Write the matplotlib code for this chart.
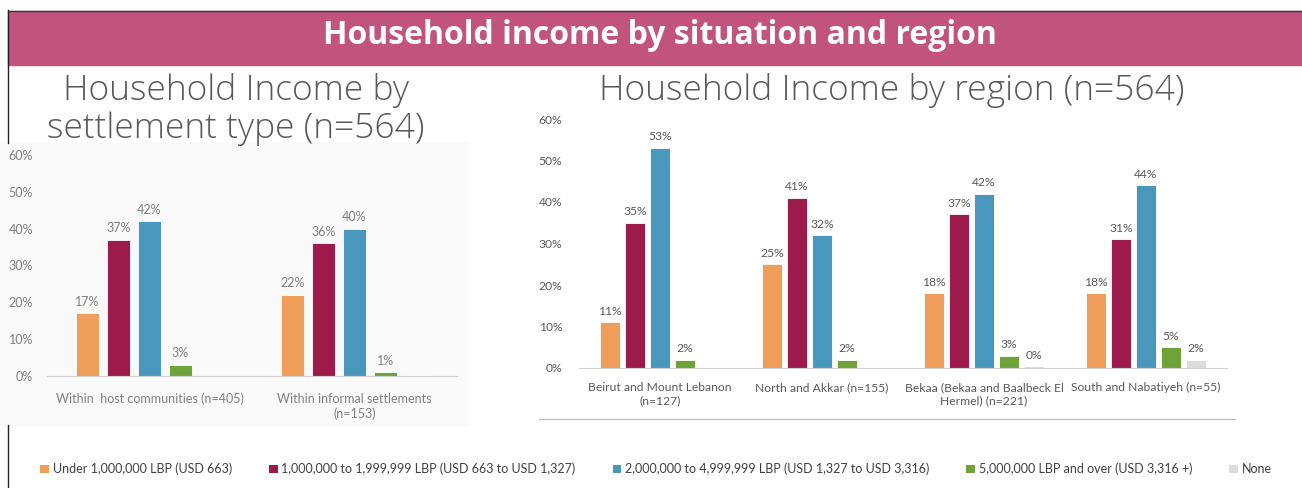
import numpy as np
import matplotlib
matplotlib.use("Agg")
import matplotlib.pyplot as plt
from matplotlib.patches import Rectangle, Patch
from matplotlib.lines import Line2D

# dane
series_names = [
    "Under 1,000,000 LBP (USD 663)",
    "1,000,000 to 1,999,999 LBP (USD 663 to USD 1,327)",
    "2,000,000 to 4,999,999 LBP (USD 1,327 to USD 3,316)",
    "5,000,000 LBP and over (USD 3,316 +)",
    "None",
]
colors = ["#EF9D5B", "#9D1B4B", "#4A97BE", "#70A23A", "#DCDCDC"]

settlement_cats = ["Within  host communities (n=405)", "Within informal settlements\n(n=153)"]
settlement_under_1m = [17, 22]
settlement_1m_2m = [37, 36]
settlement_2m_5m = [42, 40]
settlement_5m_plus = [3, 1]
settlement_none = [np.nan, 0.3]

region_cats = ["Beirut and Mount Lebanon\n(n=127)", "North and Akkar (n=155)",
               "Bekaa (Bekaa and Baalbeck El\nHermel) (n=221)", "South and Nabatiyeh (n=55)"]
region_under_1m = [11, 25, 18, 18]
region_1m_2m = [35, 41, 37, 31]
region_2m_5m = [53, 32, 42, 44]
region_5m_plus = [2, 2, 3, 5]
region_none = [np.nan, np.nan, 0.4, 2]

yticks = [0, 10, 20, 30, 40, 50, 60]

W, H = 1302, 488
plt.rcParams["font.family"] = ["Lato", "DejaVu Sans"]

fig = plt.figure(figsize=(W / 100, H / 100), dpi=100)


def px_rect(x0, y_top, x1, y_bot):
    return [x0 / W, 1 - y_bot / H, (x1 - x0) / W, (y_bot - y_top) / H]


def fx(x):
    return x / W


def fy(y):
    return 1 - y / H


# naglowek
fig.patches.append(Rectangle((fx(8), fy(65)), fx(1302 - 8), (65 - 11) / H,
                             transform=fig.transFigure, color="#C1537D", zorder=-2))
fig.lines.append(Line2D([fx(8), 1], [fy(10.5), fy(10.5)], transform=fig.transFigure,
                        color="#3a3a3a", lw=1))
fig.lines.append(Line2D([fx(8), fx(8)], [fy(10), fy(143)], transform=fig.transFigure,
                        color="#222222", lw=1))
fig.lines.append(Line2D([fx(8), fx(8)], [fy(425), fy(488)], transform=fig.transFigure,
                        color="#222222", lw=1))
fig.text(fx(660), fy(36), "Household income by situation and region", color="white",
         fontsize=23, fontweight="bold", family="Open Sans", ha="center", va="center")

# podtytuly
sub = dict(color="#5A5A5A", fontsize=25.5, fontweight="light", family="Open Sans",
           ha="center", va="center")
fig.text(fx(236), fy(90), "Household Income by", **sub)
fig.text(fx(236), fy(129), "settlement type (n=564)", **sub)
fig.text(fx(892), fy(90), "Household Income by region (n=564)", **sub)

# tlo lewego wykresu
fig.patches.append(Rectangle((0, fy(425)), fx(466), (425 - 143) / H,
                             transform=fig.transFigure, color="#F9F9F9", zorder=-2))
# linia pod prawym wykresem
fig.lines.append(Line2D([fx(539), fx(1235)], [fy(419), fy(419)], transform=fig.transFigure,
                        color="#BFBFBF", lw=1))


def draw_bars(ax, cats, values, width, slot, fs, label_none, text_color):
    x = np.arange(len(cats))
    for i, (vals, c) in enumerate(zip(values, colors)):
        pos = x + (i - 2) * slot
        vals = np.array(vals, dtype=float)
        ax.bar(pos, vals, width=width, color=c, edgecolor="white", linewidth=0.6, zorder=2)
        if i == 4 and not label_none:
            continue
        for p, v in zip(pos, vals):
            if np.isnan(v):
                continue
            ax.annotate(f"{v:.0f}%", (p, v), xytext=(0, 4), textcoords="offset points",
                        ha="center", va="bottom", fontsize=fs, color=text_color)
    ax.set_xlim(-0.5, len(cats) - 0.5)
    ax.set_ylim(0, 60)
    ax.set_yticks(yticks)
    ax.set_yticklabels([f"{t}%" for t in yticks])
    ax.set_xticks(x)
    ax.set_xticklabels(cats, linespacing=1.3)
    ax.tick_params(length=0, labelsize=fs, colors=text_color)
    for s in ["top", "right", "left"]:
        ax.spines[s].set_visible(False)
    ax.spines["bottom"].set_color("#D0D0D0")
    ax.patch.set_alpha(0)


ax1 = fig.add_axes(px_rect(47, 155, 457, 376))
draw_bars(ax1, settlement_cats,
          [settlement_under_1m, settlement_1m_2m, settlement_2m_5m, settlement_5m_plus, settlement_none],
          width=0.113, slot=0.151, fs=9, label_none=False, text_color="#808080")
ax1.tick_params(axis="y", pad=10)
ax1.tick_params(axis="x", pad=12)

ax2 = fig.add_axes(px_rect(579, 119, 1227, 368))
draw_bars(ax2, region_cats,
          [region_under_1m, region_1m_2m, region_2m_5m, region_5m_plus, region_none],
          width=0.12, slot=0.154, fs=8.7, label_none=True, text_color="#595959")
ax2.tick_params(axis="y", pad=12)
ax2.tick_params(axis="x", pad=10)

# legenda
handles = [Patch(facecolor=c, edgecolor="none") for c in colors]
fig.legend(handles, series_names, loc="center left", bbox_to_anchor=(fx(29), fy(469)),
           ncol=5, frameon=False, fontsize=9.0, handlelength=0.7, handleheight=0.7,
           handletextpad=0.3, columnspacing=2.95, labelcolor="#404040")

fig.savefig("out.png", dpi=100)
